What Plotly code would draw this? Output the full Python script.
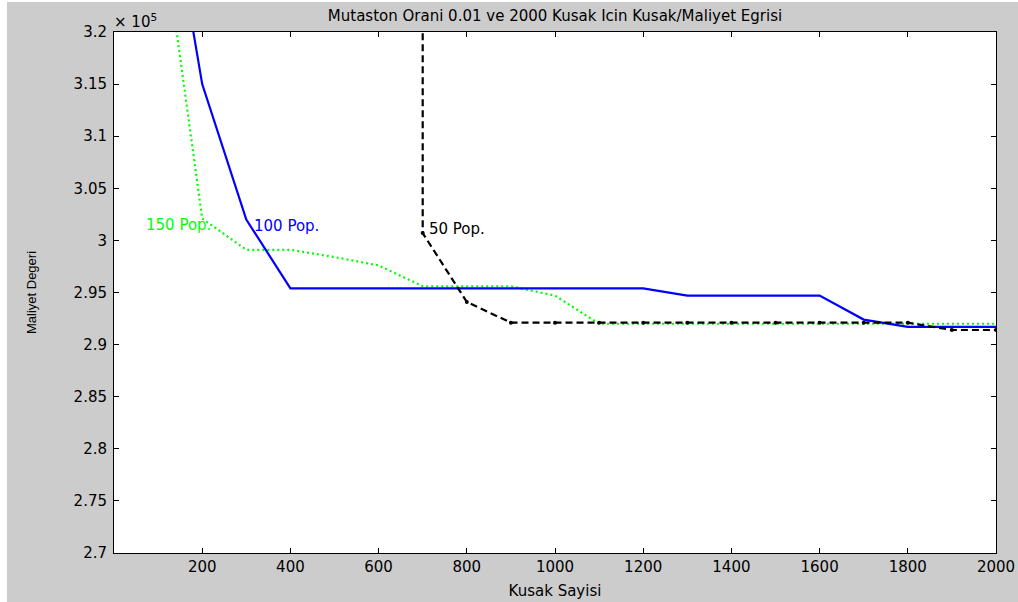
import plotly.graph_objects as go

# Generations (Kusak) and cost values (x 10^5) for each population size
gen_100 = [100, 200, 300, 400, 500, 600, 700, 800, 900, 1000, 1100, 1200, 1300,
           1400, 1500, 1600, 1700, 1800, 1900, 2000]
cost_100 = [3.40, 3.15, 3.02, 2.954, 2.954, 2.954, 2.954, 2.954, 2.954, 2.954,
            2.954, 2.954, 2.947, 2.947, 2.947, 2.947, 2.924, 2.917, 2.917, 2.917]

gen_150 = [100, 200, 300, 400, 500, 600, 700, 800, 900, 1000, 1100, 1200, 1300,
           1400, 1500, 1600, 1700, 1800, 1900, 2000]
cost_150 = [3.33, 3.021, 2.991, 2.991, 2.984, 2.976, 2.956, 2.956, 2.956, 2.947,
            2.920, 2.920, 2.920, 2.920, 2.920, 2.920, 2.920, 2.920, 2.920, 2.920]

gen_50 = [700, 700, 800, 900, 1000, 1100, 1200, 1300, 1400, 1500, 1600, 1700,
          1800, 1900, 2000]
cost_50 = [3.60, 3.007, 2.941, 2.921, 2.921, 2.921, 2.921, 2.921, 2.921, 2.921,
           2.921, 2.921, 2.921, 2.914, 2.914]

x_ticks = [200, 400, 600, 800, 1000, 1200, 1400, 1600, 1800, 2000]
y_ticks = [2.7, 2.75, 2.8, 2.85, 2.9, 2.95, 3.0, 3.05, 3.1, 3.15, 3.2]
y_tick_text = ["2.7", "2.75", "2.8", "2.85", "2.9", "2.95", "3", "3.05", "3.1", "3.15", "3.2"]

labels = [
    {"text": "150 Pop.", "x": 68, "y": 3.015, "color": "#00ff00"},
    {"text": "100 Pop.", "x": 313, "y": 3.014, "color": "#0000ff"},
    {"text": "50 Pop.", "x": 710, "y": 3.011, "color": "#000000"},
]

FONT = "DejaVu Sans, Verdana, sans-serif"
FS = 15

fig = go.Figure()

fig.add_trace(go.Scatter(
    x=gen_150, y=cost_150, mode="lines",
    line=dict(color="#00ff00", width=2.2, dash="2px,3px"),
    name="150 Pop.",
))
fig.add_trace(go.Scatter(
    x=gen_100, y=cost_100, mode="lines",
    line=dict(color="#0000ff", width=2.2),
    name="100 Pop.",
))
fig.add_trace(go.Scatter(
    x=gen_50, y=cost_50, mode="lines+markers",
    line=dict(color="#000000", width=2.2, dash="7px,4px"),
    marker=dict(color="#000000", size=4),
    name="50 Pop.",
))

for lab in labels:
    fig.add_annotation(
        x=lab["x"], y=lab["y"], xref="x", yref="y",
        text=lab["text"], showarrow=False,
        xanchor="left", yanchor="middle",
        font=dict(family=FONT, size=FS, color=lab["color"]),
    )

# exponent marker above the y axis
fig.add_annotation(
    x=0, y=1, xref="paper", yref="paper",
    text="× 10<sup>5</sup>", showarrow=False,
    xanchor="left", yanchor="bottom", yshift=-1, xshift=-2,
    font=dict(family=FONT, size=FS, color="#000000"),
)

# thin white strips along the left and top edges of the figure
fig.add_shape(type="rect", xref="paper", yref="paper",
              x0=-114 / 882, x1=-107 / 882, y0=-1.0, y1=1.2,
              fillcolor="white", line_width=0, layer="below")
fig.add_shape(type="rect", xref="paper", yref="paper",
              x0=-0.2, x1=1.1, y0=1 + 30 / 521, y1=1 + 33 / 521,
              fillcolor="white", line_width=0, layer="below")

fig.update_layout(
    width=1018, height=602,
    margin=dict(l=114, r=22, t=32, b=49),
    paper_bgcolor="#cccccc",
    plot_bgcolor="#ffffff",
    showlegend=False,
    font=dict(family=FONT, size=FS, color="#000000"),
    title=dict(
        text="Mutaston Orani 0.01 ve 2000 Kusak Icin Kusak/Maliyet Egrisi",
        x=555 / 1018, xanchor="center", y=1 - 16 / 602, yanchor="middle",
        font=dict(family=FONT, size=FS, color="#000000"),
    ),
)

fig.update_xaxes(
    range=[0, 2000], tickvals=x_ticks, automargin=False,
    ticks="inside", ticklen=5, tickcolor="#000000",
    showline=True, linecolor="#000000", linewidth=1, mirror="ticks",
    showgrid=False, zeroline=False, ticklabelstandoff=0,
    tickfont=dict(family=FONT, size=FS, color="#000000"),
    title=dict(text="Kusak Sayisi", standoff=10,
               font=dict(family=FONT, size=FS, color="#000000")),
)
fig.update_yaxes(
    range=[2.7, 3.2], tickvals=y_ticks, ticktext=y_tick_text, automargin=False,
    ticks="inside", ticklen=5, tickcolor="#000000",
    showline=True, linecolor="#000000", linewidth=1, mirror="ticks",
    showgrid=False, zeroline=False, ticklabelstandoff=3,
    tickfont=dict(family=FONT, size=FS, color="#000000"),
    title=dict(text="Maliyet Degeri", standoff=34,
               font=dict(family="Liberation Sans, Arial, sans-serif",
                         size=13, color="#000000")),
)

fig.write_html("out.html")
